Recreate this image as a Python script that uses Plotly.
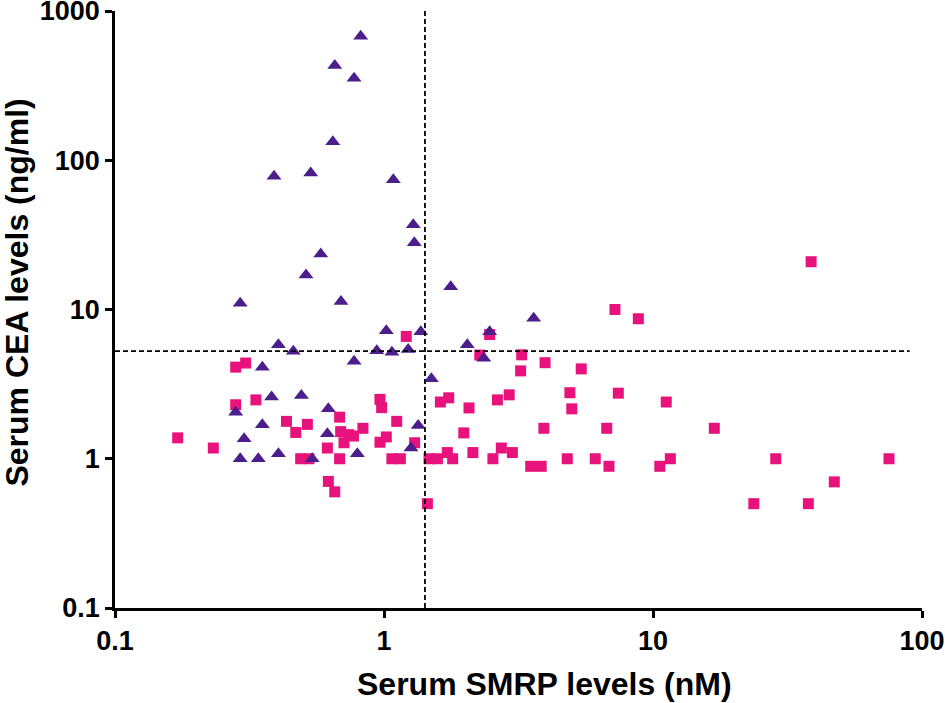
import plotly.graph_objects as go

# Purple triangles (x = SMRP nM, y = CEA ng/ml)
tri_x = [0.819, 0.656, 0.774, 0.645, 0.390, 0.534, 1.083, 1.285, 1.296, 0.582,
         0.513, 0.292, 0.692, 1.77, 1.02, 1.37, 3.6, 2.47, 2.04, 2.35,
         0.405, 0.46, 0.94, 1.07, 1.23, 0.774, 0.353, 1.50, 0.382, 0.493,
         0.281, 0.621, 0.353, 1.34, 0.302, 0.616, 1.26, 0.292, 0.341, 0.405,
         0.541, 0.796]
tri_y = [678, 431, 355, 133, 78, 82, 74, 37, 28, 23.5,
         17, 11, 11.3, 14.2, 7.2, 7.1, 8.75, 7.1, 5.8, 4.72,
         5.8, 5.26, 5.3, 5.18, 5.4, 4.5, 4.1, 3.43, 2.59, 2.65,
         2.05, 2.16, 1.69, 1.67, 1.36, 1.47, 1.18, 1.0, 1.0, 1.08,
         1.0, 1.08]

# Pink squares
sq_x = [0.171, 0.232, 0.281, 0.306, 0.281, 0.334, 0.434, 0.47, 0.519, 0.49,
        0.526, 0.616, 0.684, 0.69, 0.74, 0.71, 0.77, 0.835, 0.684, 0.621,
        0.656, 0.966, 0.98, 0.966, 1.02, 1.115, 1.07, 1.15, 1.30, 1.21,
        1.45, 1.47, 1.58, 1.72, 1.8, 1.62, 1.74, 2.07, 1.98, 2.14,
        2.27, 2.47, 3.25, 3.22, 3.97, 5.41, 2.64, 2.92, 4.91, 4.99,
        2.54, 2.73, 3.0, 3.51, 3.84, 3.93, 4.8, 6.1, 6.86, 6.73,
        7.43, 11.2, 16.9, 10.6, 11.6, 28.6, 75.4, 47.2, 23.7, 37.8,
        7.22, 8.82, 38.7]
sq_y = [1.38, 1.18, 4.11, 4.38, 2.3, 2.48, 1.78, 1.5, 1.7, 1.0,
        1.0, 1.18, 1.9, 1.52, 1.45, 1.28, 1.42, 1.6, 1.0, 0.705,
        0.60, 2.5, 2.2, 1.29, 1.4, 1.78, 1.0, 1.0, 1.28, 6.6,
        0.5, 1.0, 1.0, 1.1, 1.0, 2.4, 2.56, 2.19, 1.49, 1.1,
        4.95, 6.8, 4.97, 3.88, 4.4, 4.0, 2.48, 2.68, 2.77, 2.16,
        1.0, 1.18, 1.1, 0.89, 0.89, 1.6, 1.0, 1.0, 0.89, 1.6,
        2.75, 2.4, 1.6, 0.89, 1.0, 1.0, 1.0, 0.70, 0.5, 0.5,
        10, 8.67, 20.9]

SMRP_CUTOFF = 1.42
CEA_CUTOFF = 5.26
x_ticks = [0.1, 1, 10, 100]
x_tick_text = ["0.1", "1", "10", "100"]
y_ticks = [0.1, 1, 10, 100, 1000]
y_tick_text = ["0.1", "1", "10", "100", "1000"]
x_title = "Serum SMRP levels (nM)"
y_title = "Serum CEA levels (ng/ml)"

PINK = "#E8127C"
PURPLE = "#4B1E8C"
FONT = "Liberation Sans"

fig = go.Figure()
fig.add_trace(go.Scatter(x=sq_x, y=sq_y, mode="markers",
                         marker=dict(symbol="square", size=11, color=PINK,
                                     line=dict(width=0)),
                         showlegend=False))
fig.add_trace(go.Scatter(x=tri_x, y=tri_y, mode="markers",
                         marker=dict(symbol="triangle-up", size=13, color=PURPLE,
                                     line=dict(width=0)),
                         showlegend=False))

dash = "5px,3px"
fig.add_shape(type="line", xref="x", yref="y",
              x0=SMRP_CUTOFF, x1=SMRP_CUTOFF, y0=0.1, y1=1000,
              line=dict(color="black", width=1.8, dash=dash))
fig.add_shape(type="line", xref="x", yref="y",
              x0=0.1, x1=90, y0=CEA_CUTOFF, y1=CEA_CUTOFF,
              line=dict(color="black", width=1.8, dash=dash))

axis_common = dict(showgrid=False, zeroline=False, showline=True,
                   linecolor="black", linewidth=2.5, ticks="outside",
                   ticklen=7, tickwidth=2.5, tickcolor="black",
                   tickfont=dict(family=FONT, size=27, color="black", weight="bold"),
                   ticklabeloverflow="allow", automargin=False, mirror=False)

fig.update_xaxes(type="log", range=[-1, 2], tickvals=x_ticks, ticktext=x_tick_text,
                 **axis_common)
fig.update_yaxes(type="log", range=[-1, 3], tickvals=y_ticks, ticktext=y_tick_text,
                 **axis_common)

title_font = dict(family=FONT, size=32, color="black", weight="bold")
fig.add_annotation(text=x_title, xref="paper", yref="paper", x=0.532, y=-0.127,
                   xanchor="center", yanchor="middle", showarrow=False, font=title_font)
fig.add_annotation(text=y_title, xref="paper", yref="paper", x=-0.121, y=0.529,
                   xanchor="center", yanchor="middle", textangle=-90,
                   showarrow=False, font=title_font)

fig.update_layout(width=945, height=703,
                  margin=dict(l=115, r=23, t=11, b=95),
                  plot_bgcolor="white", paper_bgcolor="white")

fig.write_html("out.html", config={"displayModeBar": False},
               post_script="document.body.style.margin='0px';document.body.style.overflow='hidden';")
